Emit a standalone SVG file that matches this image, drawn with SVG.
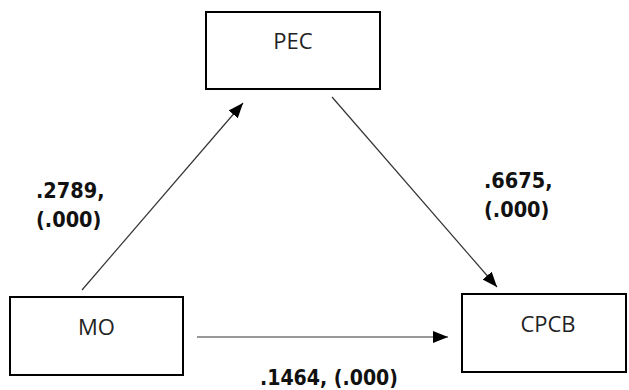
<svg xmlns="http://www.w3.org/2000/svg" width="629" height="390" viewBox="0 0 629 390">
<style>
.box{fill:#fff;stroke:#000;stroke-width:2}
.nl{font-family:"Open Sans","Noto Sans",sans-serif;font-size:22px;fill:#222;text-anchor:middle}
.el{font-family:"DejaVu Sans Condensed","DejaVu Sans",sans-serif;font-weight:bold;font-size:21.5px;fill:#111}
.edge{stroke:#333;stroke-width:1.2;fill:none;marker-end:url(#ah)}
</style>
<defs>
<marker id="ah" markerUnits="userSpaceOnUse" markerWidth="16" markerHeight="12" refX="15" refY="6" orient="auto">
<path d="M0,0 L15,6 L0,12 z" fill="#000"/>
</marker>
</defs>
<rect width="629" height="390" fill="#fff"/>
<g id="edges">
<line class="edge" x1="82" y1="290" x2="243" y2="103"/>
<line class="edge" x1="332" y1="97" x2="497" y2="287"/>
<line class="edge" x1="197" y1="337" x2="448" y2="337"/>
</g>
<g id="node-PEC">
<rect class="box" x="206" y="12" width="174" height="77"/>
<text class="nl" x="293" y="49">PEC</text>
</g>
<g id="node-MO">
<rect class="box" x="10" y="297" width="173" height="78"/>
<text class="nl" x="96.5" y="335">MO</text>
</g>
<g id="node-CPCB">
<rect class="box" x="462" y="294" width="164" height="78"/>
<text class="nl" x="548" y="332">CPCB</text>
</g>
<g id="labels">
<text class="el" x="36" y="198">.2789,</text>
<text class="el" x="36" y="227">(.000)</text>
<text class="el" x="484" y="188">.6675,</text>
<text class="el" x="484" y="217">(.000)</text>
<text class="el" x="260" y="385" textLength="138" lengthAdjust="spacingAndGlyphs">.1464, (.000)</text>
</g>
</svg>
